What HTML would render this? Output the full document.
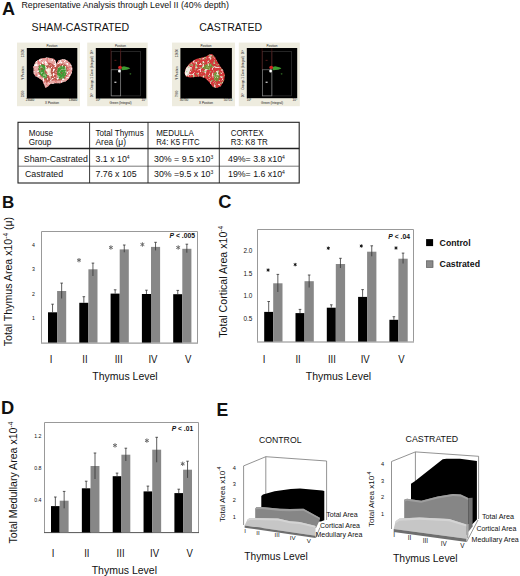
<!DOCTYPE html>
<html><head><meta charset="utf-8">
<style>
html,body{margin:0;padding:0;background:#fff;}
body{width:520px;height:576px;overflow:hidden;position:relative;}
svg{position:absolute;left:0;top:0;}
text{font-family:"Liberation Sans",sans-serif;fill:#111;}
.b{font-weight:bold;}
</style></head>
<body>
<svg width="520" height="576" viewBox="0 0 520 576">
<!-- ===== Panel A ===== -->
<text x="2" y="15" class="b" font-size="18">A</text>
<text x="21.5" y="8.2" font-size="8.8" fill="#222">Representative Analysis through Level II (40% depth)</text>
<text x="31.6" y="30.7" font-size="10.6" fill="#222">SHAM-CASTRATED</text>
<text x="199.2" y="30.8" font-size="10.5" fill="#222">CASTRATED</text>

<!-- flow images placeholder -->
<g id="flow">
<rect x="17" y="42.6" width="63" height="63.6" fill="#eeecdf"/>
<rect x="26.8" y="48" width="50.5" height="50.5" fill="#000"/>
<rect x="87.2" y="42.6" width="60.5" height="63.6" fill="#eeecdf"/>
<rect x="95.8" y="48" width="50.5" height="50.5" fill="#000"/>
<rect x="172" y="42.6" width="63" height="63.6" fill="#eeecdf"/>
<rect x="180.4" y="48" width="51.5" height="50.5" fill="#000"/>
<rect x="238.8" y="42.6" width="61" height="63.6" fill="#eeecdf"/>
<rect x="246.8" y="48" width="50.4" height="50.2" fill="#000"/>
</g>
<defs>
<filter id="bl" x="-20%" y="-20%" width="140%" height="140%"><feGaussianBlur stdDeviation="0.6"/></filter>
<filter id="bl2" x="-20%" y="-20%" width="140%" height="140%"><feGaussianBlur stdDeviation="0.35"/></filter>
</defs>
<!-- blob 1 (sham position) -->
<defs>
<clipPath id="c1"><path d="M33.5,67 L35.3,62 40.6,58.4 47.7,57.5 53,58.4 55.7,60.6 56.1,64.6 58.3,60.6 62.7,58.9 67.2,60.2 70.7,63.7 72.5,68.2 71.6,73.5 68.9,78.8 65.4,81.4 60.1,83.2 54.8,83.2 50.4,84.1 47.7,86.7 45.5,88.1 44.2,85 42.4,80.5 38.8,77.9 35.3,76.1 33.5,73.5Z"/></clipPath>
<clipPath id="c3"><path d="M184.5,73 L186,68 190,63 196,59 202,57.5 206,56.5 209,54.5 212,54 215,57 217,61 220,66 223,70 225,75 224,81 221,86 217,88 213,87 209,82 205,78 200,76.5 195,77 190,77.5 186,76.5Z"/></clipPath>
<filter id="spW" x="0" y="0" width="1" height="1"><feTurbulence type="fractalNoise" baseFrequency="0.42" numOctaves="2" seed="4"/><feColorMatrix type="matrix" values="0 0 0 0 1 0 0 0 0 0.96 0 0 0 0 0.94 8 0 0 0 -4.4"/><feGaussianBlur stdDeviation="0.35"/></filter>
<filter id="spR" x="0" y="0" width="1" height="1"><feTurbulence type="fractalNoise" baseFrequency="0.45" numOctaves="2" seed="9"/><feColorMatrix type="matrix" values="0 0 0 0 0.78 0 0 0 0 0.2 0 0 0 0 0.2 8 0 0 0 -4.4"/><feGaussianBlur stdDeviation="0.35"/></filter>
<filter id="spG" x="0" y="0" width="1" height="1"><feTurbulence type="fractalNoise" baseFrequency="0.45" numOctaves="2" seed="15"/><feColorMatrix type="matrix" values="0 0 0 0 0.25 0 0 0 0 0.62 0 0 0 0 0.2 8 0 0 0 -4.4"/><feGaussianBlur stdDeviation="0.35"/></filter>
</defs>
<g clip-path="url(#c1)">
<rect x="30" y="55" width="45" height="35" fill="#e7aaa6"/>
<path fill="#b9584c" d="M38,67 L41,63 47,62 52,63.5 55.5,67 58,64 64,63.5 68.5,67 68.5,73 65.5,78.5 60,80.5 54,80.5 49.5,81 46.5,83 44.5,80 40.5,76 38,72Z" filter="url(#bl)"/>
<rect x="30" y="55" width="45" height="35" filter="url(#spW)"/>
<rect x="30" y="55" width="45" height="35" filter="url(#spR)"/>
<g filter="url(#bl2)">
<path fill="#3f9c35" d="M38.8,66 L42,64.3 45,65.5 46.2,68.5 44.6,71.5 47.2,75.5 46.5,78.5 43.5,78.2 40.8,75.5 38.6,71Z"/>
<path fill="#3f9c35" d="M57.8,67.5 L61,65.8 64.8,66.2 66.5,69.5 66,75 63.8,78.8 60,79.5 57.6,77 57.2,72Z"/>
<path fill="#f3ead2" d="M46,70 L48.5,67.5 51,68.5 50.5,72.5 52,75.5 50,77 47.5,74Z"/>
<path fill="#f6ecdf" d="M44.5,63.5 L47.5,62.8 48.5,65 45.5,65.8Z"/>
<circle cx="42" cy="69" r="0.9" fill="#8a5a3a"/>
<circle cx="61.5" cy="73" r="0.9" fill="#7a6a3a"/>
<circle cx="44" cy="75" r="0.8" fill="#d8e0b0"/>
</g>
<rect x="30" y="55" width="45" height="35" filter="url(#spW)" opacity="0.45"/>
<rect x="30" y="55" width="45" height="35" filter="url(#spR)" opacity="0.35"/>
</g>
<!-- blob 3 (castrated position) -->
<g clip-path="url(#c3)">
<rect x="182" y="52" width="45" height="38" fill="#d5383a"/>
<path fill="#f0e6e0" d="M184.5,73 L186,68 189,65 190.5,69 188.5,75 186,76.5Z" filter="url(#bl2)"/>
<path fill="#7a8a34" d="M203,66 L210,63 213,66 208,70 203,69Z" filter="url(#bl2)"/>
<path fill="#7a8a34" d="M214,73 L218,71 220,77 217,82 214,80Z" filter="url(#bl2)"/>
<rect x="182" y="52" width="45" height="38" filter="url(#spW)" opacity="0.8"/>
<rect x="182" y="52" width="45" height="38" filter="url(#spG)" opacity="0.6"/>
</g>
<!-- dot plots (images 2 and 4) -->
<g transform="translate(0,0)">
<g fill="none" stroke-width="0.6">
<rect x="111.4" y="51.5" width="29" height="44.4" stroke="#3e3e3e"/>
<line x1="120.6" y1="51.5" x2="120.6" y2="95.9" stroke="#4a4a4a"/>
<line x1="110.9" y1="48.3" x2="110.9" y2="69.6" stroke="#5a1010"/>
<line x1="120.6" y1="48.3" x2="120.6" y2="66" stroke="#5a1010"/>
<rect x="111.1" y="69.8" width="9.6" height="26.1" stroke="#8e8e8e"/>
</g>
<g filter="url(#bl2)">
<path fill="#3c9a30" d="M121.3,67 L124,66.2 128.8,67.6 130.2,68.6 127,69.8 121.6,70.3Z"/>
<ellipse cx="120" cy="67.4" rx="1.9" ry="1.7" fill="#d42424"/>
<ellipse cx="119.4" cy="71.1" rx="1.4" ry="1.5" fill="#fff"/>
<circle cx="130.4" cy="73.8" r="0.9" fill="#2a5a20"/>
<rect x="114.4" y="81.6" width="2" height="1.4" fill="#bbb"/>
<rect x="114.4" y="59.8" width="2" height="1.2" fill="#4a1515"/>
</g>
</g>
<g transform="translate(151.2,0)">
<g fill="none" stroke-width="0.6">
<rect x="111.4" y="51.5" width="29" height="44.4" stroke="#3e3e3e"/>
<line x1="120.6" y1="51.5" x2="120.6" y2="95.9" stroke="#4a4a4a"/>
<line x1="110.9" y1="48.3" x2="110.9" y2="69.6" stroke="#5a1010"/>
<line x1="120.6" y1="48.3" x2="120.6" y2="66" stroke="#5a1010"/>
<rect x="111.1" y="69.8" width="9.6" height="26.1" stroke="#8e8e8e"/>
</g>
<g filter="url(#bl2)">
<path fill="#3c9a30" d="M121.3,67 L124,66.2 128.8,67.6 130.2,68.6 127,69.8 121.6,70.3Z"/>
<ellipse cx="120" cy="67.4" rx="1.9" ry="1.7" fill="#d42424"/>
<ellipse cx="119.4" cy="71.1" rx="1.4" ry="1.5" fill="#fff"/>
<circle cx="130.4" cy="73.8" r="0.9" fill="#2a5a20"/>
<rect x="114.4" y="81.6" width="2" height="1.4" fill="#bbb"/>
<rect x="114.4" y="59.8" width="2" height="1.2" fill="#4a1515"/>
</g>
</g>
<!-- tiny labels in flow images -->
<g font-size="3.1" fill="#9a9a8e" text-anchor="middle">
<text x="52" y="46.6">Position</text>
<text x="120.5" y="46.6">Position</text>
<text x="206" y="46.6">Position</text>
<text x="272" y="46.6">Position</text>
<text x="52" y="103.8">X Position</text>
<text x="120.5" y="103.8">Green (Integral)</text>
<text x="206" y="103.8">X Position</text>
<text x="272" y="103.8">Green (Integral)</text>
<text x="30" y="101.3">23040</text><text x="73" y="101.3">13640</text>
<text x="98" y="101.3">10⁰</text><text x="144" y="101.3">10⁴</text>
<text x="184" y="101.3">30730</text><text x="228" y="101.3">50710</text>
<text x="249" y="101.3">10⁰</text><text x="295" y="101.3">10⁴</text>
</g>
<g font-size="3" fill="#9a9a8e" text-anchor="middle">
<text transform="translate(24,73) rotate(-90)">Y Position</text>
<text transform="translate(24,53) rotate(-90)">12650</text>
<text transform="translate(24,94) rotate(-90)">2350</text>
<text transform="translate(92.5,73) rotate(-90)">Orange-1 Cone (Integral)</text>
<text transform="translate(92.5,52) rotate(-90)">10⁴</text>
<text transform="translate(92.5,95) rotate(-90)">10⁰</text>
<text transform="translate(177.5,73) rotate(-90)">Y Position</text>
<text transform="translate(177.5,53) rotate(-90)">12050</text>
<text transform="translate(177.5,94) rotate(-90)">7960</text>
<text transform="translate(243.5,73) rotate(-90)">Orange-1 Cone (Integral)</text>
<text transform="translate(243.5,52) rotate(-90)">10⁴</text>
<text transform="translate(243.5,95) rotate(-90)">10⁰</text>
</g>

<!-- table -->
<g id="table" stroke="#222" fill="none">
<rect x="18" y="122.3" width="281.2" height="60.7" stroke-width="1.1"/>
<line x1="18" y1="148.6" x2="299.2" y2="148.6" stroke-width="1.5"/>
<line x1="18" y1="166.2" x2="299.2" y2="166.2" stroke-width="0.8" stroke="#555"/>
<line x1="89.6" y1="122.3" x2="89.6" y2="183" stroke-width="0.9"/>
<line x1="148" y1="122.3" x2="148" y2="183" stroke-width="0.9"/>
<line x1="219.3" y1="122.3" x2="219.3" y2="183" stroke-width="0.9"/>
</g>
<g font-size="8.5" fill="#222" lengthAdjust="spacingAndGlyphs">
<text x="28.7" y="136.2" textLength="24.3" lengthAdjust="spacingAndGlyphs">Mouse</text>
<text x="28.7" y="145" textLength="22.6" lengthAdjust="spacingAndGlyphs">Group</text>
<text x="95.5" y="136.2" textLength="48.2" lengthAdjust="spacingAndGlyphs">Total Thymus</text>
<text x="95.5" y="145" textLength="30.5" lengthAdjust="spacingAndGlyphs">Area  (μ)</text>
<text x="156.2" y="136.2" textLength="37.7" lengthAdjust="spacingAndGlyphs">MEDULLA</text>
<text x="156.2" y="145" textLength="43.6" lengthAdjust="spacingAndGlyphs">R4: K5 FITC</text>
<text x="230.7" y="136.2" textLength="32.8" lengthAdjust="spacingAndGlyphs">CORTEX</text>
<text x="230.7" y="145" textLength="37.2" lengthAdjust="spacingAndGlyphs">R3: K8 TR</text>
</g>
<g font-size="8.8" fill="#222">
<text x="23.8" y="162">Sham-Castrated</text>
<text x="25" y="177">Castrated</text>
<text x="95.5" y="162">3.1 x 10<tspan font-size="5" dy="-3.5">4</tspan></text>
<text x="95.5" y="177">7.76 x 105</text>
<text x="154" y="162">30% = 9.5 x10<tspan font-size="5" dy="-3.5">3</tspan></text>
<text x="154" y="177">30% =9.5 x 10<tspan font-size="5" dy="-3.5">3</tspan></text>
<text x="228" y="162">49%= 3.8 x10<tspan font-size="5" dy="-3.5">4</tspan></text>
<text x="228" y="177">19%= 1.6 x10<tspan font-size="5" dy="-3.5">4</tspan></text>
</g>

<!-- ===== Panel B ===== -->
<text x="2" y="208" class="b" font-size="17">B</text>
<text transform="translate(11.5,346.3) rotate(-90)" font-size="10.6" fill="#222">Total Thymus Area x10<tspan font-size="6.5" dy="-4">-4</tspan><tspan dy="4"> (μ)</tspan></text>
<g stroke="#999" stroke-width="1" fill="none">
<polyline points="41.5,342.9 41.5,231.5 197.5,231.5 197.5,342.9"/>
</g>
<line x1="41" y1="343.1" x2="198" y2="343.1" stroke="#9a9a9a" stroke-width="1.3"/>
<g font-size="5.2" fill="#333">
<text x="32" y="247">4</text><text x="32" y="271.3">3</text><text x="32" y="295.8">2</text><text x="32" y="320.4">1</text>
</g>
<g fill="#000">
<rect x="48.00" y="312.3" width="9.1" height="30.30"/>
<rect x="79.30" y="302.8" width="9.1" height="39.80"/>
<rect x="110.60" y="293.6" width="9.1" height="49.00"/>
<rect x="141.90" y="294" width="9.1" height="48.60"/>
<rect x="173.20" y="294.2" width="9.1" height="48.40"/>
</g>
<g fill="#878787">
<rect x="57.10" y="291" width="9.1" height="51.60"/>
<rect x="88.40" y="269.3" width="9.1" height="73.30"/>
<rect x="119.70" y="249.4" width="9.1" height="93.20"/>
<rect x="151.00" y="246.9" width="9.1" height="95.70"/>
<rect x="182.30" y="248.8" width="9.1" height="93.80"/>
</g>
<g stroke="#333" stroke-width="0.8" fill="none">
<path d="M52.55,312.3V304.2M51.25,304.2h2.6"/>
<path d="M61.65,283.1V298.5M60.35,283.1h2.6"/>
<path d="M83.85,302.8V296.7M82.55,296.7h2.6"/>
<path d="M92.95,263.1V276M91.65,263.1h2.6"/>
<path d="M115.15,293.6V289.8M113.85,289.8h2.6"/>
<path d="M124.25,245V252.3M122.95,245h2.6"/>
<path d="M146.45,294V290.2M145.15,290.2h2.6"/>
<path d="M155.55,242.3V250.4M154.25,242.3h2.6"/>
<path d="M177.75,294.2V290.4M176.45,290.4h2.6"/>
<path d="M186.85,244.2V252.7M185.55,244.2h2.6"/>
</g>
<g><path transform="translate(79,260.2)" d="M0,-2.2V2.2M-1.91,-1.10L1.91,1.10M-1.91,1.10L1.91,-1.10" stroke="#6a6a6a" stroke-width="1.0" fill="none"/><path transform="translate(110.9,247.5)" d="M0,-2.2V2.2M-1.91,-1.10L1.91,1.10M-1.91,1.10L1.91,-1.10" stroke="#6a6a6a" stroke-width="1.0" fill="none"/><path transform="translate(142.4,244.5)" d="M0,-2.2V2.2M-1.91,-1.10L1.91,1.10M-1.91,1.10L1.91,-1.10" stroke="#6a6a6a" stroke-width="1.0" fill="none"/><path transform="translate(178.2,247.5)" d="M0,-2.2V2.2M-1.91,-1.10L1.91,1.10M-1.91,1.10L1.91,-1.10" stroke="#6a6a6a" stroke-width="1.0" fill="none"/></g>
<text x="169.6" y="237.7" font-size="7.9" class="b" fill="#111" textLength="25.4" lengthAdjust="spacingAndGlyphs"><tspan font-style="italic">P</tspan> &lt; .005</text>
<g font-size="11" fill="#222" text-anchor="middle">
<text transform="translate(51.2,363) scale(0.87,1)">I</text><text transform="translate(85,363) scale(0.87,1)">II</text><text transform="translate(118.7,363) scale(0.87,1)">III</text><text transform="translate(152.9,363) scale(0.87,1)">IV</text><text transform="translate(188.3,363) scale(0.87,1)">V</text>
</g>
<text x="92.3" y="379.5" font-size="10.5" fill="#222">Thymus Level</text>

<!-- ===== Panel C ===== -->
<text x="218.3" y="208.2" class="b" font-size="18.3">C</text>
<text transform="translate(227,337.7) rotate(-90)" font-size="10.6" fill="#222">Total Cortical Area x10<tspan font-size="6.5" dy="-4">-4</tspan></text>
<g stroke="#999" stroke-width="1" fill="none">
<polyline points="257.5,341.5 257.5,229.5 413.5,229.5 413.5,341.5"/>
</g>
<line x1="257" y1="342" x2="414" y2="342" stroke="#8a8a8a" stroke-width="1.2"/>
<g font-size="6.4" fill="#333">
<text x="243.4" y="253.1">2.0</text><text x="243.4" y="275.5">1.5</text><text x="243.4" y="298.1">1.0</text><text x="243.4" y="320.6">0.5</text>
</g>
<g fill="#000">
<rect x="264.20" y="311.9" width="9.0" height="29.70"/>
<rect x="295.50" y="313.1" width="9.0" height="28.50"/>
<rect x="326.80" y="307.7" width="9.0" height="33.90"/>
<rect x="358.10" y="296.9" width="9.0" height="44.70"/>
<rect x="389.40" y="319.8" width="9.0" height="21.80"/>
</g>
<g fill="#878787">
<rect x="273.20" y="283.3" width="9.3" height="58.30"/>
<rect x="304.50" y="281.2" width="9.3" height="60.40"/>
<rect x="335.80" y="264" width="9.3" height="77.60"/>
<rect x="367.10" y="251.7" width="9.3" height="89.90"/>
<rect x="398.40" y="258.7" width="9.3" height="82.90"/>
</g>
<g stroke="#333" stroke-width="0.8" fill="none">
<path d="M268.70,311.9V301.5M267.40,301.5h2.6"/>
<path d="M277.85,274.4V292M276.55,274.4h2.6"/>
<path d="M300.00,313.1V309.4M298.70,309.4h2.6"/>
<path d="M309.15,275V287.5M307.85,275h2.6"/>
<path d="M331.30,307.7V304.8M330.00,304.8h2.6"/>
<path d="M340.45,258.3V268M339.15,258.3h2.6"/>
<path d="M362.60,296.9V289.6M361.30,289.6h2.6"/>
<path d="M371.75,245.8V256.3M370.45,245.8h2.6"/>
<path d="M393.90,319.8V316.7M392.60,316.7h2.6"/>
<path d="M403.05,253.1V263.5M401.75,253.1h2.6"/>
</g>
<g><path transform="translate(268.1,270.1)" d="M0,-1.7V1.7M-1.47,-0.85L1.47,0.85M-1.47,0.85L1.47,-0.85" stroke="#222" stroke-width="1.0" fill="none"/><circle cx="268.1" cy="270.1" r="0.8" fill="#111"/><path transform="translate(295.2,264.6)" d="M0,-1.7V1.7M-1.47,-0.85L1.47,0.85M-1.47,0.85L1.47,-0.85" stroke="#222" stroke-width="1.0" fill="none"/><circle cx="295.2" cy="264.6" r="0.8" fill="#111"/><path transform="translate(328.3,248.2)" d="M0,-1.7V1.7M-1.47,-0.85L1.47,0.85M-1.47,0.85L1.47,-0.85" stroke="#222" stroke-width="1.0" fill="none"/><circle cx="328.3" cy="248.2" r="0.8" fill="#111"/><path transform="translate(361.3,246)" d="M0,-1.7V1.7M-1.47,-0.85L1.47,0.85M-1.47,0.85L1.47,-0.85" stroke="#222" stroke-width="1.0" fill="none"/><circle cx="361.3" cy="246" r="0.8" fill="#111"/><path transform="translate(396,248)" d="M0,-1.7V1.7M-1.47,-0.85L1.47,0.85M-1.47,0.85L1.47,-0.85" stroke="#222" stroke-width="1.0" fill="none"/><circle cx="396" cy="248" r="0.8" fill="#111"/></g>
<text x="388.3" y="238.7" font-size="7.5" class="b" fill="#111" textLength="21.6" lengthAdjust="spacingAndGlyphs"><tspan font-style="italic">P</tspan> &lt; .04</text>
<g font-size="11" fill="#222" text-anchor="middle">
<text transform="translate(264.2,362.8) scale(0.87,1)">I</text><text transform="translate(298.1,362.8) scale(0.87,1)">II</text><text transform="translate(331.9,362.8) scale(0.87,1)">III</text><text transform="translate(365.2,362.8) scale(0.87,1)">IV</text><text transform="translate(401.5,362.8) scale(0.87,1)">V</text>
</g>
<text x="338.4" y="379.5" font-size="10.5" fill="#222" text-anchor="middle">Thymus Level</text>

<!-- legend -->
<rect x="426.1" y="239.1" width="7" height="7" fill="#000"/>
<text x="439.6" y="245.8" font-size="9.4" class="b" fill="#111" textLength="31" lengthAdjust="spacingAndGlyphs">Control</text>
<rect x="426.6" y="260.8" width="6.4" height="6.6" fill="#8a8a8a" stroke="#555" stroke-width="0.7"/>
<text x="439.6" y="267" font-size="9.4" class="b" fill="#111" textLength="40.4" lengthAdjust="spacingAndGlyphs">Castrated</text>

<!-- ===== Panel D ===== -->
<text x="1" y="414.3" class="b" font-size="18.3">D</text>
<text transform="translate(17,543.5) rotate(-90)" font-size="10.6" fill="#222">Total Medullary Area x10<tspan font-size="6.5" dy="-4">-4</tspan></text>
<g stroke="#999" stroke-width="1" fill="none">
<polyline points="44.5,532.8 44.5,422.5 198.5,422.5 198.5,532.8"/>
</g>
<line x1="44" y1="532.6" x2="199" y2="532.6" stroke="#555" stroke-width="1"/>
<g font-size="5.2" fill="#333">
<text x="34.3" y="437.8">1.2</text><text x="34.3" y="469.6">0.8</text><text x="34.3" y="501.6">0.4</text>
</g>
<g fill="#000">
<rect x="51.00" y="506.1" width="8.7" height="26.30"/>
<rect x="81.85" y="488.3" width="8.7" height="44.10"/>
<rect x="112.70" y="476.2" width="8.7" height="56.20"/>
<rect x="143.55" y="491.4" width="8.7" height="41.00"/>
<rect x="174.40" y="493.1" width="8.7" height="39.30"/>
</g>
<g fill="#878787">
<rect x="59.70" y="500.7" width="8.9" height="31.70"/>
<rect x="90.55" y="466" width="8.9" height="66.40"/>
<rect x="121.40" y="454.7" width="8.9" height="77.70"/>
<rect x="152.25" y="449.7" width="8.9" height="82.70"/>
<rect x="183.10" y="469.7" width="8.9" height="62.70"/>
</g>
<g stroke="#333" stroke-width="0.8" fill="none">
<path d="M55.35,506.1V497M54.05,497h2.6"/>
<path d="M64.15,491.4V508.3M62.85,491.4h2.6"/>
<path d="M86.20,488.3V481.2M84.90,481.2h2.6"/>
<path d="M95.00,453V479M93.70,453h2.6"/>
<path d="M117.05,476.2V473.1M115.75,473.1h2.6"/>
<path d="M125.85,448.2V461M124.55,448.2h2.6"/>
<path d="M147.90,491.4V486.1M146.60,486.1h2.6"/>
<path d="M156.70,437.3V462.3M155.40,437.3h2.6"/>
<path d="M178.75,493.1V489.2M177.45,489.2h2.6"/>
<path d="M187.55,461.2V477.9M186.25,461.2h2.6"/>
</g>
<g><path transform="translate(115,445.4)" d="M0,-2.2V2.2M-1.91,-1.10L1.91,1.10M-1.91,1.10L1.91,-1.10" stroke="#6a6a6a" stroke-width="1.0" fill="none"/><path transform="translate(146.9,440.6)" d="M0,-2.2V2.2M-1.91,-1.10L1.91,1.10M-1.91,1.10L1.91,-1.10" stroke="#6a6a6a" stroke-width="1.0" fill="none"/><path transform="translate(182.7,463.8)" d="M0,-2.2V2.2M-1.91,-1.10L1.91,1.10M-1.91,1.10L1.91,-1.10" stroke="#6a6a6a" stroke-width="1.0" fill="none"/></g>
<text x="171.8" y="431.4" font-size="7.5" class="b" fill="#111" textLength="21.3" lengthAdjust="spacingAndGlyphs"><tspan font-style="italic">P</tspan> &lt; .01</text>
<g font-size="11" fill="#222" text-anchor="middle">
<text transform="translate(53.2,557) scale(0.87,1)">I</text><text transform="translate(86.8,557) scale(0.87,1)">II</text><text transform="translate(120.6,557) scale(0.87,1)">III</text><text transform="translate(154.5,557) scale(0.87,1)">IV</text><text transform="translate(189.8,557) scale(0.87,1)">V</text>
</g>
<text x="91.7" y="573.8" font-size="10.5" fill="#222">Thymus Level</text>

<!-- ===== Panel E ===== -->
<text x="216.6" y="415.6" class="b" font-size="17.6">E</text>
<!-- control 3D -->
<text x="259" y="443" font-size="8.7" fill="#222">CONTROL</text>
<text transform="translate(224.6,522) rotate(-90)" font-size="8.1" fill="#222">Total Area x10<tspan font-size="4.6" dy="-3.4">-4</tspan></text>
<g font-size="5.6" fill="#333" text-anchor="middle">
<text x="234.2" y="469.8">4</text><text x="234.2" y="486.2">3</text><text x="234.2" y="502.1">2</text><text x="234.2" y="518.8">1</text>
</g>
<g stroke="#777" stroke-width="0.8" fill="none">
<polyline points="243.6,525 243.6,465.9 265.8,456.7 326.6,461 326.6,520"/>
<line x1="265.8" y1="456.7" x2="265.8" y2="496"/>
</g>
<polygon fill="#000" points="261.3,496 263,494.5 274.6,491.3 290.7,489 300,488.5 322.3,490.5 324.3,491 324.3,520.2 320.8,521.6 261.3,521"/>
<polygon fill="#868686" points="255.2,508.7 256.5,507 262,506.9 280,508.8 290,509.1 303.5,508.7 319.8,517.8 319.8,520 316,528 255.2,528"/>
<polygon fill="#9e9e9e" points="255.2,508.7 256.5,507 262,506.9 280,508.8 290,509.1 303.5,508.7 319.8,517.8 319.8,519.6 303.5,510.8 290,511.2 280,510.9 262,509.1 256.5,509.2 255.2,510.6"/>
<polygon fill="#c6c6c6" points="247.5,519.6 249.8,517.9 278,518.4 290,521.2 299.6,522.1 314,525.5 315.5,526 315.5,535.8 244.6,525.5"/>
<polygon fill="#d4d4d4" points="247.5,519.6 249.8,517.9 278,518.4 290,521.2 299.6,522.1 314,525.5 315.5,526 315.5,527.8 299.6,524.1 290,523.2 278,520.4 249.8,519.9 247.5,521.6"/>
<polygon fill="#6e6e6e" points="244.6,525.5 315.5,535.8 315.5,538 244.6,527.7"/>
<line x1="315.5" y1="538" x2="320" y2="527.5" stroke="#8a8a8a" stroke-width="0.9"/>
<g font-size="6.2" fill="#444" text-anchor="middle">
<text x="245" y="532.7">I</text><text x="258" y="535">II</text><text x="277.2" y="536.6">III</text><text x="292.6" y="540.4">IV</text><text x="308.8" y="542.7">V</text>
</g>
<g font-size="7.2" fill="#222">
<text x="326.2" y="516.9" textLength="31.5" lengthAdjust="spacingAndGlyphs">Total Area</text>
<text x="320" y="528.1" textLength="40" lengthAdjust="spacingAndGlyphs">Cortical Area</text>
<text x="315.4" y="537.4" textLength="47" lengthAdjust="spacingAndGlyphs">Medullary Area</text>
</g>
<text x="244.3" y="560" font-size="10.2" fill="#222">Thymus Level</text>

<!-- castrated 3D -->
<text x="405.6" y="441.5" font-size="8.8" fill="#222">CASTRATED</text>
<text transform="translate(374.3,527) rotate(-90)" font-size="8.1" fill="#222">Total Area x10<tspan font-size="4.6" dy="-3.4">-4</tspan></text>
<g font-size="5.6" fill="#333" text-anchor="middle">
<text x="382.6" y="466.2">4</text><text x="382.6" y="482.5">3</text><text x="382.6" y="499.2">2</text><text x="382.6" y="515.9">1</text>
</g>
<g stroke="#777" stroke-width="0.8" fill="none">
<polyline points="391.5,529 391.5,461.5 415.4,451.9 478.6,456.3 478.6,519"/>
<line x1="415.4" y1="451.9" x2="415.4" y2="484"/>
</g>
<polygon fill="#000" points="411,483.8 414.8,481.3 442.7,459.2 446.5,458.7 460,458.8 476.9,461 476.9,519.4 472.6,524 411,524"/>
<polygon fill="#868686" points="404.2,499.8 407,498.7 421.3,500.8 437.7,496.5 453,494 460.8,494.6 468.2,498 468.2,535 404.2,530"/>
<polygon fill="#9e9e9e" points="404.2,499.8 407,498.7 421.3,500.8 437.7,496.5 453,494 460.8,494.6 468.2,498 468.2,500 460.8,496.6 453,496 437.7,498.5 421.3,502.8 407,500.7 404.2,501.8"/>
<polygon fill="#707070" points="468.2,498 472.6,497.7 472.6,526.4 468.2,532"/>
<polygon fill="#c6c6c6" points="395.6,521.3 399.4,518.5 419.6,517.5 449.2,519.1 466.5,524.4 466.5,538.8 393.7,529"/>
<polygon fill="#d4d4d4" points="395.6,521.3 399.4,518.5 419.6,517.5 449.2,519.1 466.5,524.4 466.5,526.6 449.2,521.3 419.6,519.7 399.4,520.7 395.6,523.5"/>
<polygon fill="#a8a8a8" points="466.5,524.4 468.3,524 468.3,538 466.5,538.8"/>
<polygon fill="#6e6e6e" points="393.7,529 466.5,538.8 466.5,542 393.7,532"/>
<line x1="466.5" y1="542" x2="478" y2="520" stroke="#8a8a8a" stroke-width="0.9"/>
<g font-size="6.4" fill="#444" text-anchor="middle">
<text x="394.2" y="537">I</text><text x="409.6" y="540.2">II</text><text x="425.4" y="542.8">III</text><text x="443.7" y="545.7">IV</text><text x="462.3" y="547.6">V</text>
</g>
<g font-size="7.1" fill="#222">
<text x="482" y="519.2" textLength="32" lengthAdjust="spacingAndGlyphs">Total Area</text>
<text x="476.4" y="531.1" textLength="39.9" lengthAdjust="spacingAndGlyphs">Cortical Area</text>
<text x="471.6" y="541.5" textLength="47.2" lengthAdjust="spacingAndGlyphs">Medullary Area</text>
</g>
<text x="393" y="562.3" font-size="10.4" fill="#222">Thymus Level</text>
</svg>
</body></html>
